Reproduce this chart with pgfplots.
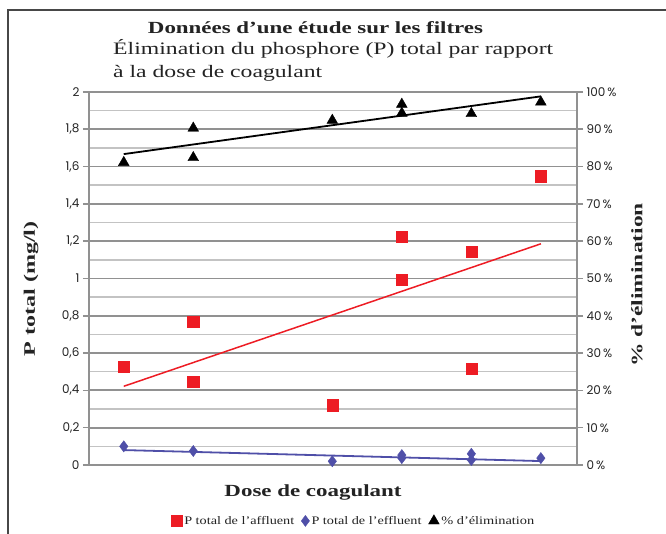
\documentclass[border=0pt]{standalone}
\usepackage{graphicx}
\usepackage{pgfplots}
\pgfplotsset{compat=1.18}
\usepackage{fontspec}
\setmainfont{Liberation Serif}
\newfontfamily\tickfont{Poppins}
\definecolor{redm}{RGB}{237,28,36}
\definecolor{bluem}{RGB}{79,79,168}
\definecolor{gridmaj}{RGB}{145,145,145}
\definecolor{gridmin}{RGB}{195,195,195}
\definecolor{txt}{RGB}{35,35,35}
\pgfplotstableread{
x y
1 0.526
2 0.770
2 0.445
4 0.321
5 1.225
5 0.993
6 1.144
6 0.515
7 1.549
}\affluent
\pgfplotstableread{
x y
1 0.100
2 0.075
4 0.020
5 0.053
5 0.037
6 0.060
6 0.027
7 0.037
}\effluent
\pgfplotstableread{
x y
1 81.1
2 90.3
2 82.4
4 92.4
5 96.7
5 94.3
6 94.2
7 97.3
}\elim
\newcommand{\fitw}[2]{\resizebox{#1}{\height}{#2}}
\begin{document}
\begin{tikzpicture}[x=1pt,y=1pt]
\useasboundingbox (-89,-69) rectangle (577,465);
\draw[line width=1.4pt, color=black!72] (-81,-69) -- (-81,455) -- (577,455);
\begin{axis}[
  at={(0,0)}, anchor=south west,
  scale only axis, width=488pt, height=373pt,
  xmin=0.5, xmax=7.52, ymin=0, ymax=2,
  axis x line=none, axis y line*=left,
  xtick=\empty,
  ytick={0,0.2,0.4,0.6,0.8,1,1.2,1.4,1.6,1.8,2},
  minor ytick={0.1,0.3,0.5,0.7,0.9,1.1,1.3,1.5,1.7,1.9},
  yticklabel style={/pgf/number format/.cd, use comma, fixed, precision=1},
  /pgf/number format/assume math mode=true,
  ticklabel style={font=\tickfont\fontsize{12}{14}\selectfont, color=txt},
  tick align=outside, major tick length=6pt, minor tick length=0pt,
  tick style={line width=1.6pt, color=gridmaj},
  axis line style={line width=1.8pt, color=gridmaj},
  ymajorgrids, yminorgrids,
  major grid style={line width=1.8pt, color=gridmaj},
  minor grid style={line width=1.5pt, color=gridmin},
  clip=false,
]
\addplot[only marks, mark=square*, mark size=5.6pt, color=redm] table {\affluent};
\addplot[only marks, mark=diamond*, mark size=5.6pt, color=bluem] table {\effluent};
\addplot[redm, line width=1.5pt] coordinates {(1,0.422) (7,1.186)};
\addplot[bluem, line width=1.8pt] coordinates {(1,0.080) (7,0.021)};
\end{axis}
\begin{axis}[
  at={(0,0)}, anchor=south west,
  scale only axis, width=488pt, height=373pt,
  xmin=0.5, xmax=7.52, ymin=0, ymax=100,
  axis x line=none, axis y line*=right,
  xtick=\empty,
  ytick={0,10,20,30,40,50,60,70,80,90,100},
  yticklabel={\pgfmathprintnumber{\tick}\,\%},
  /pgf/number format/assume math mode=true,
  ticklabel style={font=\tickfont\fontsize{12}{14}\selectfont, color=txt},
  tick align=outside, major tick length=6pt,
  tick style={line width=1.6pt, color=gridmaj},
  axis line style={line width=1.8pt, color=gridmaj},
  clip=false,
  legend columns=3,
  legend style={draw=none, fill=none, at={(0.543,-0.15)}, anchor=center,
    font=\fontsize{11.5}{13}\selectfont, text=txt,
    /tikz/every even column/.append style={column sep=5pt}},
  legend image code/.code={\draw[#1] plot coordinates {(0pt,0pt)};},
]
\addlegendimage{only marks, mark=square*, mark size=5.3pt, color=redm}
\addlegendentry{\fitw{110pt}{P total de l'affluent}}
\addlegendimage{only marks, mark=diamond*, mark size=5.5pt, color=bluem}
\addlegendentry{\fitw{110pt}{P total de l'effluent}}
\addplot[only marks, mark=triangle*, mark size=6.2pt, color=black] table {\elim};
\addlegendentry{\fitw{93pt}{\% d'élimination}}
\addplot[black, line width=1.8pt, forget plot] coordinates {(1,83.35) (7,98.83)};
\end{axis}
\node[anchor=base, inner sep=0pt, font=\bfseries\fontsize{17}{20}\selectfont, text=txt] at (226.5,431) {\fitw{335pt}{Données d'une étude sur les filtres}};
\node[anchor=base west, inner sep=0pt, font=\fontsize{17.5}{21}\selectfont, text=txt] at (24,410) {\fitw{440pt}{Élimination du phosphore (P) total par rapport}};
\node[anchor=base west, inner sep=0pt, font=\fontsize{17.5}{21}\selectfont, text=txt] at (24,387) {\fitw{209pt}{à la dose de coagulant}};
\node[rotate=90, inner sep=0pt, font=\bfseries\fontsize{16}{19}\selectfont, text=txt] at (-58,176) {\fitw{135pt}{P total (mg/l)}};
\node[rotate=90, inner sep=0pt, font=\bfseries\fontsize{16}{19}\selectfont, text=txt] at (548,180) {\fitw{164pt}{\% d'élimination}};
\node[anchor=base, inner sep=0pt, font=\bfseries\fontsize{17}{20}\selectfont, text=txt] at (224,-32) {\fitw{177pt}{Dose de coagulant}};
\end{tikzpicture}
\end{document}
